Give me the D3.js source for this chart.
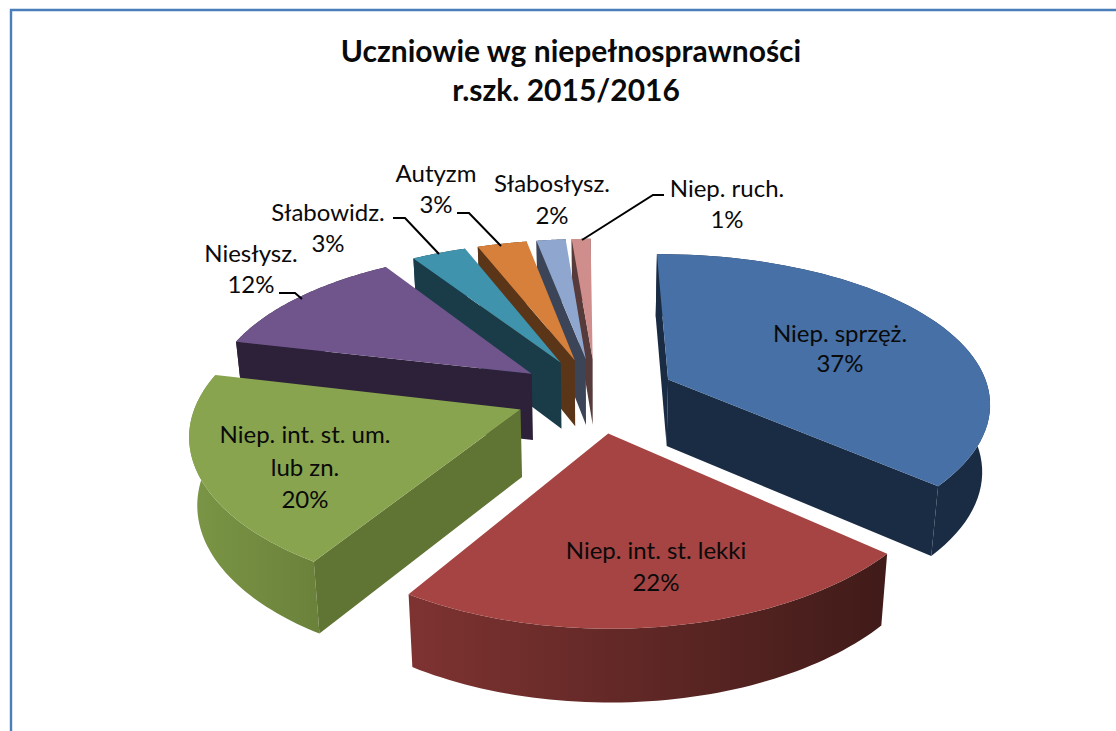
<!DOCTYPE html>
<html>
  <head>
    <meta charset="utf-8" />
    <title>Uczniowie wg niepełnosprawności</title>
    <script src="https://cdn.jsdelivr.net/npm/d3@7"></script>
    <style type="text/css">
      html, body { margin: 0; padding: 0; background: #fff; }
      svg { display: block; }
      text { font-family: Lato, "Noto Sans", sans-serif; fill: #0a0a0a; }
    </style>
  </head>

  <body>
    <svg id="chart" width="1116" height="731"></svg>
    <script type="text/javascript">
      // dane (etykiety pokazuja wartosci zaokraglone)
      var titleLines = ['Uczniowie wg niepełnosprawności', 'r.szk. 2015/2016'];
      var categories = ['Niep. sprzęż.', 'Niep. int. st. lekki', 'Niep. int. st. um.|lub zn.', 'Niesłysz.', 'Słabowidz.', 'Autyzm', 'Słabosłysz.', 'Niep. ruch.'];
      var values = [36.5, 22.4, 19.8, 12.2, 3.2, 2.9, 1.7, 1.1];

      // kolory: wierzch, sciana, zewnetrzna krawedz (lewa, prawa)
      var topColors = ['#4670a6', '#a54442', '#88a44e', '#70558c', '#3f93ad', '#d7803b', '#8fa7cf', '#cf8d8c'];
      var wallColors = ['#1a2c44', '#461c1a', '#607433', '#2c2138', '#1a3b48', '#5b3518', '#3c4558', '#573a3a'];
      var rimLeft = ['#1a2c44', '#7e3331', '#7b9646', '#2c2138', '#1a3b48', '#5b3518', '#3c4558', '#573a3a'];
      var rimRight = ['#1a2c44', '#401b19', '#6a813a', '#2c2138', '#1a3b48', '#5b3518', '#3c4558', '#573a3a'];

      // polozenie etykiet: srodek x, linia bazowa kazdego wiersza
      var labelX = [840, 656, 305, 251, 328, 436, 552, 727];
      var labelY = [[342, 372], [559, 591], [443, 476, 508], [262, 293], [221, 252], [182, 213], [192, 224], [197, 228]];
      var titleX = [571, 566];
      // odnosniki
      var leaders = [
        [[279, 293], [295, 293], [302, 299]],
        [[393, 218], [405, 218], [439, 254]],
        [[457, 213], [469, 213], [501, 246]],
        [[664, 195], [653, 195], [582, 240]]
      ];

      var cx = 596, cy = 395;
      var kx = 0.14, ky = 0.16; // perspektywa
      var explode = 0.25;  // odsuniecie wycinkow
      var depth = 67;
      var shrink = 0.98;   // dolna krawedz jest nieco wezsza

      var scX = d3.scaleLinear().domain([-1, 1]).range([-322, 322]);
      var scY = d3.scaleLinear().domain([-1, 1]).range([-150, 150]);

      function project(u, v, low) {
        var fx = 1 / (1 - kx * v);
        var fy = 1 / (1 - ky * v);
        return [
          cx + scX(u) * fx * (low ? shrink : 1),
          cy + scY(v) * fy + (low ? depth * Math.sqrt(fx) : 0)
        ];
      }

      var startDeg = -0.5;
      var pie = d3.pie().sort(null)
        .startAngle(startDeg * Math.PI / 180)
        .endAngle((startDeg + 360) * Math.PI / 180);
      var arcs = pie(values);

      var svg = d3.select('#chart');
      var defs = svg.append('defs');
      var lineMaker = d3.line();

      // ramka
      svg.append('path')
        .attr('d', 'M11,731V10H1116')
        .attr('fill', 'none')
        .attr('stroke', '#4a7ebb')
        .attr('stroke-width', 2.4);

      // od tylu do przodu
      var drawOrder = [7, 6, 5, 4, 3, 0, 2, 1];

      drawOrder.forEach(function (i) {
        var d = arcs[i];
        var mid = (d.startAngle + d.endAngle) / 2;
        var u0 = explode * Math.sin(mid);
        var v0 = -explode * Math.cos(mid);
        var steps = d3.range(0, 61).map(function (s) {
          return d.startAngle + (d.endAngle - d.startAngle) * s / 60;
        });
        var rimOf = function (low) {
          return steps.map(function (a) {
            return project(u0 + Math.sin(a), v0 - Math.cos(a), low);
          });
        };
        var rimTop = rimOf(false);
        var rimLow = rimOf(true);
        var apexTop = project(u0, v0, false);
        var apexLow = project(u0, v0, true);
        var g = svg.append('g').attr('class', 'slice');

        // zewnetrzna krawedz z gradientem
        var xs = d3.extent(rimTop.concat(rimLow), function (p) { return p[0]; });
        var grad = defs.append('linearGradient')
          .attr('id', 'rim' + i)
          .attr('gradientUnits', 'userSpaceOnUse')
          .attr('x1', xs[0]).attr('x2', xs[1])
          .attr('y1', 0).attr('y2', 0);
        grad.append('stop').attr('offset', 0).attr('stop-color', rimLeft[i]);
        grad.append('stop').attr('offset', 1).attr('stop-color', rimRight[i]);
        g.append('path')
          .attr('d', lineMaker(rimTop.concat(rimLow.slice().reverse())) + 'Z')
          .attr('fill', 'url(#rim' + i + ')');

        // sciany promieniowe - tylko widoczne
        var inner = rimTop[30];
        [[rimTop[0], rimLow[0]], [rimTop[60], rimLow[60]]].forEach(function (e) {
          var wall = [apexTop, e[0], e[1], apexLow];
          var tri = [apexTop, e[0], inner];
          if (d3.polygonArea(wall) * d3.polygonArea(tri) < 0) {
            g.append('path')
              .attr('d', lineMaker(wall) + 'Z')
              .attr('fill', wallColors[i]);
          }
        });

        // wierzch
        g.append('path')
          .attr('d', lineMaker([apexTop].concat(rimTop)) + 'Z')
          .attr('fill', topColors[i]);
      });

      // odnosniki
      svg.append('g').selectAll('path')
        .data(leaders)
        .enter()
        .append('path')
        .attr('d', function (d) { return lineMaker(d); })
        .attr('fill', 'none')
        .attr('stroke', '#000')
        .attr('stroke-width', 2);

      // etykiety
      categories.forEach(function (name, i) {
        var lines = name.split('|').concat([Math.round(arcs[i].value) + '%']);
        svg.append('g').selectAll('text')
          .data(lines)
          .enter()
          .append('text')
          .attr('x', labelX[i])
          .attr('y', function (d, j) { return labelY[i][j]; })
          .attr('text-anchor', 'middle')
          .attr('font-size', 24)
          .text(function (d) { return d; });
      });

      // tytul
      svg.append('g').selectAll('text')
        .data(titleLines)
        .enter()
        .append('text')
        .attr('x', function (d, j) { return titleX[j]; })
        .attr('y', function (d, j) { return 62 + j * 39; })
        .attr('text-anchor', 'middle')
        .attr('font-size', 30)
        .attr('font-weight', 700)
        .text(function (d) { return d; });
    </script>
  </body>
</html>
